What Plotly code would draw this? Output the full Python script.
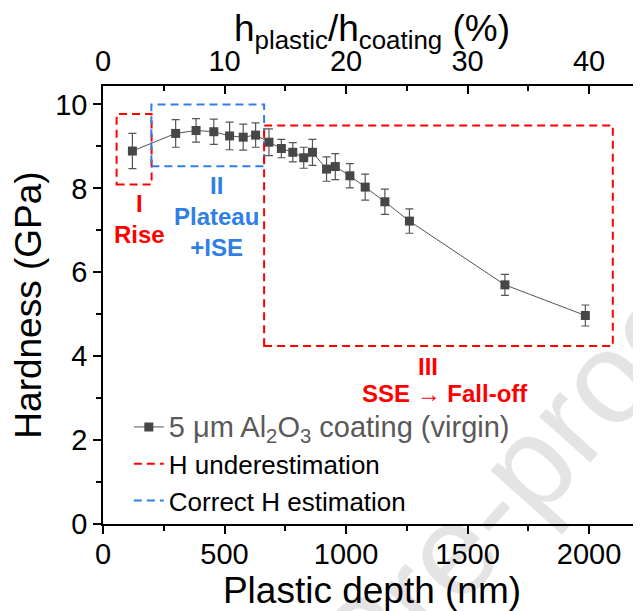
import plotly.graph_objects as go

# plastic depth (nm), hardness (GPa) and error (GPa)
depth = [121, 299, 383, 456, 521, 577, 628, 683, 734, 781, 826, 862,
         920, 956, 1016, 1079, 1160, 1261, 1654, 1985]
hardness = [8.89, 9.31, 9.38, 9.35, 9.25, 9.22, 9.27, 9.10, 8.95, 8.86, 8.73, 8.86,
            8.46, 8.52, 8.30, 8.03, 7.68, 7.22, 5.70, 4.97]
err = [0.42, 0.33, 0.28, 0.30, 0.33, 0.31, 0.29, 0.32, 0.22, 0.23, 0.25, 0.31,
       0.29, 0.31, 0.29, 0.31, 0.30, 0.29, 0.25, 0.25]

coating_nm = 5000
x_max = 2214

# region boxes: x0, x1, y0, y1, colour
boxes = [
    (56, 200, 8.09, 9.77, "#ff0000"),
    (199, 663, 8.53, 10.0, "#2f7fe6"),
    (663, 2098, 4.24, 9.50, "#ff0000"),
]

FONT = "Liberation Sans, Arial, sans-serif"
RED = "#ff0000"
BLUE = "#2f7fe6"
DASH = "8px,5px"

fig = go.Figure()

# watermark behind everything: a blank shape carrying a rotated label
fig.add_shape(type="rect", xref="paper", yref="paper", layer="below",
              x0=0.46, x1=0.48, y0=-0.27, y1=-0.25,
              line=dict(width=0), fillcolor="rgba(0,0,0,0)",
              label=dict(text="Journal Pre-proof", textangle=-48,
                         textposition="middle center",
                         font=dict(family=FONT, size=130, color="#e4e4e4")))

fig.add_trace(go.Scatter(
    x=depth, y=hardness,
    mode="lines+markers",
    line=dict(color="#555555", width=1),
    marker=dict(symbol="square", size=9, color="#474747"),
    error_y=dict(type="data", array=err, color="#555555", thickness=1.2, width=4),
    name='<span style="color:#595959;font-size:29px">5 \u03bcm Al<sub>2</sub>O<sub>3</sub> coating (virgin)</span>',
))
fig.add_trace(go.Scatter(x=[None], y=[None], mode="lines",
                         line=dict(color=RED, dash=DASH, width=2),
                         name="H underestimation"))
fig.add_trace(go.Scatter(x=[None], y=[None], mode="lines",
                         line=dict(color=BLUE, dash=DASH, width=2),
                         name="Correct H estimation"))
# dummy trace to carry the top axis
fig.add_trace(go.Scatter(x=[0], y=[None], xaxis="x2", showlegend=False, hoverinfo="skip"))

for x0, x1, y0, y1, c in boxes:
    fig.add_shape(type="rect", xref="x", yref="y", x0=x0, x1=x1, y0=y0, y1=y1,
                  line=dict(color=c, width=2, dash=DASH))

labels = [
    (152, 7.27, "I<br>Rise", RED),
    (468, 7.33, "II<br>Plateau<br>+ISE", BLUE),
]
for x, y, t, c in labels:
    fig.add_annotation(x=x, y=y, xref="x", yref="y", text="<b>%s</b>" % t,
                       showarrow=False, font=dict(family=FONT, size=24, color=c),
                       align="center")
fig.add_annotation(x=1339, y=3.75, xref="x", yref="y", text="<b>III</b>",
                   showarrow=False, font=dict(family=FONT, size=24, color=RED))
fig.add_annotation(x=1407, y=3.10, xref="x", yref="y", text="<b>SSE \u2192 Fall-off</b>",
                   showarrow=False, font=dict(family=FONT, size=24, color=RED))

axis_common = dict(
    showline=True, linecolor="black", linewidth=1.6,
    tickfont=dict(family=FONT, size=29, color="black"),
    ticklen=8, tickwidth=1.6, tickcolor="black",
    showgrid=False, zeroline=False, automargin=False,
)

# the page body adds an 8px offset, so the figure is 8px smaller than the window
fig.update_layout(
    width=633, height=603,
    margin=dict(l=95, r=0, t=78, b=87, pad=0),
    paper_bgcolor="white", plot_bgcolor="rgba(0,0,0,0)",
    font=dict(family=FONT, color="black"),
    xaxis=dict(range=[0, x_max], dtick=500, ticks="outside", ticklabelstandoff=-5,
               minor=dict(dtick=250, ticks="outside", ticklen=5, tickcolor="black", tickwidth=1.6),
               title=dict(text="Plastic depth (nm)", font=dict(family=FONT, size=37), standoff=0),
               **axis_common),
    xaxis2=dict(range=[0, x_max / coating_nm * 100], dtick=10, ticks="inside",
                overlaying="x", side="top", anchor="y", ticklabelstandoff=2,
                minor=dict(dtick=5, ticks="inside", ticklen=5, tickcolor="black", tickwidth=1.6),
                title=dict(text="h<sub>plastic</sub>/h<sub>coating</sub> (%)",
                           font=dict(family=FONT, size=37), standoff=8),
                **axis_common),
    yaxis=dict(range=[0, 10.44], dtick=2, ticks="outside",
               minor=dict(dtick=1, ticks="outside", ticklen=5, tickcolor="black", tickwidth=1.6),
               title=dict(text="Hardness (GPa)", font=dict(family=FONT, size=37), standoff=8),
               **axis_common),
    legend=dict(x=0.048, y=0.275, xanchor="left", yanchor="top",
                bgcolor="rgba(0,0,0,0)", font=dict(family=FONT, size=26, color="black"),
                tracegroupgap=0, itemwidth=30),
    showlegend=True,
)

fig.write_html("out.html")
